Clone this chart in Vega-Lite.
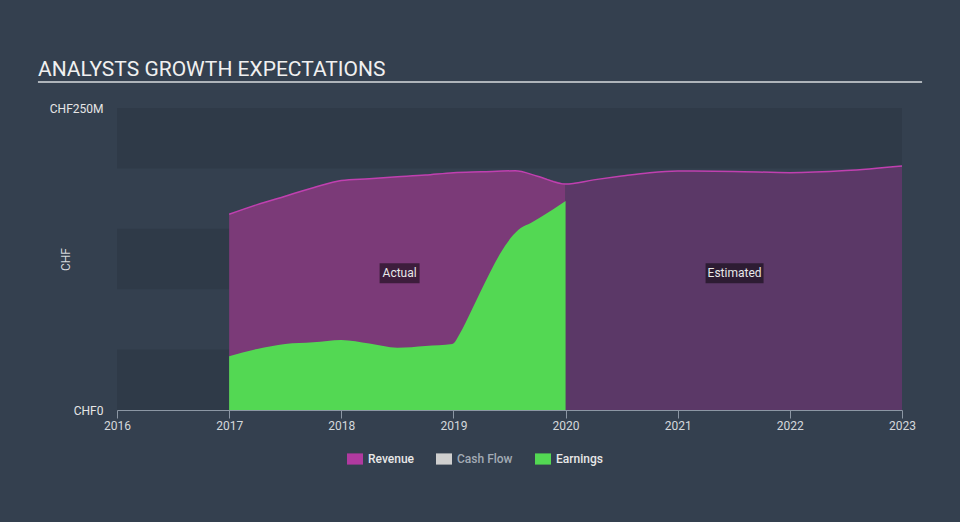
{
  "$schema": "https://vega.github.io/schema/vega-lite/v6.json",
  "width": 785,
  "height": 302,
  "autosize": "none",
  "padding": {"left": 117, "top": 108, "right": 58, "bottom": 112},
  "background": "#34404f",
  "config": {"view": {"stroke": null}, "font": "Roboto"},
  "title": {
    "text": "ANALYSTS GROWTH EXPECTATIONS",
    "anchor": "start",
    "frame": "group",
    "dx": -79,
    "offset": 1,
    "fontSize": 21,
    "fontWeight": "normal",
    "color": "#f0f0f0",
    "font": "Roboto"
  },
  "datasets": {
    "main": [
      {"year": 2017, "value": 162, "series": "Revenue", "period": "actual"},
      {"year": 2017.25, "value": 170, "series": "Revenue", "period": "actual"},
      {"year": 2017.5, "value": 177, "series": "Revenue", "period": "actual"},
      {"year": 2017.75, "value": 184, "series": "Revenue", "period": "actual"},
      {"year": 2018, "value": 190, "series": "Revenue", "period": "actual"},
      {"year": 2018.25, "value": 191.5, "series": "Revenue", "period": "actual"},
      {"year": 2018.5, "value": 193, "series": "Revenue", "period": "actual"},
      {"year": 2018.75, "value": 194.5, "series": "Revenue", "period": "actual"},
      {"year": 2019, "value": 196.5, "series": "Revenue", "period": "actual"},
      {"year": 2019.25, "value": 197.2, "series": "Revenue", "period": "actual"},
      {"year": 2019.55, "value": 198, "series": "Revenue", "period": "actual"},
      {"year": 2019.75, "value": 193.5, "series": "Revenue", "period": "actual"},
      {"year": 2020, "value": 187, "series": "Revenue", "period": "actual"},
      {"year": 2020, "value": 187, "series": "Revenue", "period": "estimate"},
      {"year": 2020.25, "value": 190.5, "series": "Revenue", "period": "estimate"},
      {"year": 2020.5, "value": 193.7, "series": "Revenue", "period": "estimate"},
      {"year": 2020.75, "value": 196.5, "series": "Revenue", "period": "estimate"},
      {"year": 2021, "value": 197.8, "series": "Revenue", "period": "estimate"},
      {"year": 2021.5, "value": 197.5, "series": "Revenue", "period": "estimate"},
      {"year": 2022, "value": 196.5, "series": "Revenue", "period": "estimate"},
      {"year": 2022.5, "value": 198.2, "series": "Revenue", "period": "estimate"},
      {"year": 2023, "value": 202, "series": "Revenue", "period": "estimate"},
      {"year": 2017, "value": 44.5, "series": "Earnings", "period": "actual"},
      {"year": 2017.25, "value": 50.5, "series": "Earnings", "period": "actual"},
      {"year": 2017.5, "value": 54.6, "series": "Earnings", "period": "actual"},
      {"year": 2017.75, "value": 56, "series": "Earnings", "period": "actual"},
      {"year": 2018, "value": 58, "series": "Earnings", "period": "actual"},
      {"year": 2018.25, "value": 55, "series": "Earnings", "period": "actual"},
      {"year": 2018.5, "value": 51.5, "series": "Earnings", "period": "actual"},
      {"year": 2018.75, "value": 53, "series": "Earnings", "period": "actual"},
      {"year": 2018.99, "value": 54.6, "series": "Earnings", "period": "actual"},
      {"year": 2019.06, "value": 63.7, "series": "Earnings", "period": "actual"},
      {"year": 2019.15, "value": 80.2, "series": "Earnings", "period": "actual"},
      {"year": 2019.24, "value": 97.6, "series": "Earnings", "period": "actual"},
      {"year": 2019.42, "value": 130, "series": "Earnings", "period": "actual"},
      {"year": 2019.51, "value": 142.3, "series": "Earnings", "period": "actual"},
      {"year": 2019.6, "value": 150.6, "series": "Earnings", "period": "actual"},
      {"year": 2019.69, "value": 154.8, "series": "Earnings", "period": "actual"},
      {"year": 2019.78, "value": 159.8, "series": "Earnings", "period": "actual"},
      {"year": 2020, "value": 173, "series": "Earnings", "period": "actual"}
    ],
    "bands": [
      {"lo": 0, "hi": 50},
      {"lo": 100, "hi": 150},
      {"lo": 200, "hi": 250}
    ],
    "labels": [
      {"label": "Actual", "year": 2018.52, "value": 113.2},
      {"label": "Estimated", "year": 2021.507, "value": 113.2}
    ]
  },
  "layer": [
    {
      "data": {"name": "bands"},
      "mark": {"type": "rect", "fill": "#2f3a48"},
      "encoding": {
        "x": {"datum": 2016, "type": "quantitative", "scale": {"domain": [2016, 2023], "nice": false, "zero": false},
          "axis": {"values": [2016, 2017, 2018, 2019, 2020, 2021, 2022, 2023], "format": "d", "title": null,
            "labelColor": "#d4d8dc", "labelFontSize": 12, "labelPadding": 2, "domainColor": "#8c97a4",
            "tickColor": "#8c97a4", "tickSize": 8, "grid": false, "labelFlush": false}},
        "x2": {"datum": 2023},
        "y": {"field": "lo", "type": "quantitative", "scale": {"domain": [0, 250], "nice": false},
          "axis": {"values": [0, 250], "labelExpr": "datum.value == 0 ? 'CHF0' : 'CHF' + datum.value + 'M'",
            "title": "CHF", "titleColor": "#d4d8dc", "titleFontSize": 12, "titleFontWeight": "normal",
            "titleX": -52, "titleY": 151, "titleAngle": -90, "titleAlign": "center", "titleBaseline": "middle",
            "labelColor": "#e6e6e6", "labelFontSize": 12, "labelPadding": 14, "domain": false, "ticks": false, "grid": false}},
        "y2": {"field": "hi"}
      }
    },
    {
      "data": {"name": "main"},
      "transform": [{"filter": "datum.series == 'Revenue' && datum.period == 'actual'"}],
      "mark": {"type": "area", "interpolate": "monotone", "fill": "#7b3a78"},
      "encoding": {
        "x": {"field": "year", "type": "quantitative"},
        "y": {"field": "value", "type": "quantitative"}
      }
    },
    {
      "data": {"name": "main"},
      "transform": [{"filter": "datum.series == 'Revenue' && datum.period == 'estimate'"}],
      "mark": {"type": "area", "interpolate": "monotone", "fill": "#5b3867"},
      "encoding": {
        "x": {"field": "year", "type": "quantitative"},
        "y": {"field": "value", "type": "quantitative"}
      }
    },
    {
      "data": {"name": "main"},
      "transform": [{"filter": "datum.series == 'Earnings'"}],
      "mark": {"type": "area", "interpolate": "monotone", "opacity": 1},
      "encoding": {
        "x": {"field": "year", "type": "quantitative"},
        "y": {"field": "value", "type": "quantitative"},
        "color": {"field": "series", "type": "nominal",
          "scale": {"domain": ["Revenue", "Cash Flow", "Earnings"], "range": ["#b13aa0", "#cfcfcf", "#53d853"]},
          "legend": {"orient": "none", "legendX": 230, "legendY": 343, "direction": "horizontal", "title": null,
            "symbolType": "M-1,-0.7H1V0.7H-1Z", "symbolSize": 256, "symbolOpacity": 1, "symbolStrokeWidth": 0,
            "labelFontSize": 12, "labelFontWeight": 500, "labelOffset": 5, "columnPadding": 22,
            "labelColor": {"expr": "datum.value == 'Cash Flow' ? '#a3abb5' : '#e8e8e8'"}}}
      }
    },
    {
      "data": {"name": "main"},
      "transform": [{"filter": "datum.series == 'Revenue' && (datum.period == 'actual' || datum.year > 2020)"}],
      "mark": {"type": "line", "interpolate": "monotone", "color": "#c040b0", "strokeWidth": 1.5},
      "encoding": {
        "x": {"field": "year", "type": "quantitative"},
        "y": {"field": "value", "type": "quantitative"}
      }
    },
    {
      "data": {"values": [{}]},
      "mark": {"type": "rule", "color": "#aeb4ba", "strokeWidth": 2},
      "encoding": {
        "x": {"datum": 2015.295, "type": "quantitative"},
        "x2": {"datum": 2023.179},
        "y": {"datum": 271.5, "type": "quantitative"}
      }
    },
    {
      "data": {"name": "labels"},
      "transform": [{"filter": "datum.label == 'Actual'"}],
      "mark": {"type": "point", "shape": "M-1,-0.5H1V0.5H-1Z", "size": 1600, "filled": true, "fill": "#000000", "opacity": 0.5, "strokeWidth": 0},
      "encoding": {
        "x": {"field": "year", "type": "quantitative"},
        "y": {"field": "value", "type": "quantitative"}
      }
    },
    {
      "data": {"name": "labels"},
      "transform": [{"filter": "datum.label == 'Estimated'"}],
      "mark": {"type": "point", "shape": "M-1,-0.345H1V0.345H-1Z", "size": 3364, "filled": true, "fill": "#000000", "opacity": 0.5, "strokeWidth": 0},
      "encoding": {
        "x": {"field": "year", "type": "quantitative"},
        "y": {"field": "value", "type": "quantitative"}
      }
    },
    {
      "data": {"name": "labels"},
      "mark": {"type": "text", "fontSize": 12, "color": "#e8e8e8", "align": "center", "baseline": "middle"},
      "encoding": {
        "x": {"field": "year", "type": "quantitative"},
        "y": {"field": "value", "type": "quantitative"},
        "text": {"field": "label"}
      }
    }
  ]
}
